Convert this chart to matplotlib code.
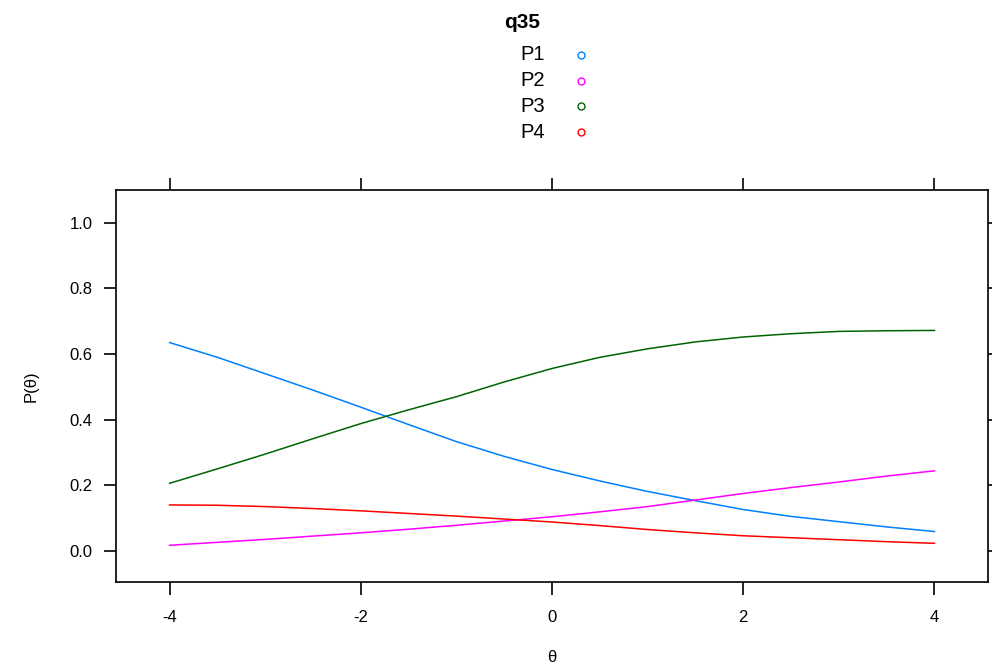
import matplotlib.pyplot as plt
import numpy as np
from matplotlib.lines import Line2D

plt.rcParams['font.family'] = ['Liberation Sans', 'DejaVu Sans']
plt.rcParams['axes.unicode_minus'] = False

# item trace lines for q35, one per response category
theta = [-4, -3.5, -3, -2.5, -2, -1.5, -1, -0.5, 0, 0.5, 1, 1.5, 2, 2.5, 3, 3.5, 4]
p1 = [0.635, 0.590, 0.540, 0.490, 0.438, 0.385, 0.333, 0.288, 0.248, 0.213, 0.181, 0.153, 0.126, 0.105, 0.089, 0.073, 0.059]
p2 = [0.017, 0.026, 0.035, 0.045, 0.055, 0.066, 0.078, 0.091, 0.104, 0.119, 0.135, 0.155, 0.175, 0.193, 0.210, 0.228, 0.244]
p3 = [0.206, 0.250, 0.295, 0.342, 0.388, 0.430, 0.470, 0.515, 0.556, 0.590, 0.616, 0.637, 0.652, 0.662, 0.669, 0.671, 0.672]
p4 = [0.140, 0.139, 0.135, 0.129, 0.122, 0.114, 0.106, 0.097, 0.088, 0.077, 0.065, 0.055, 0.046, 0.040, 0.034, 0.028, 0.023]

names = ['P1', 'P2', 'P3', 'P4']
series = [p1, p2, p3, p4]
colors = ['#0080ff', '#ff00ff', '#006400', '#ff0000']

fig = plt.figure(figsize=(9.92, 6.67), dpi=100)
ax = fig.add_axes([0.117, 0.1274, 0.879, 0.5877])

for ys, c in zip(series, colors):
    ax.plot(theta, ys, color=c, linewidth=1.1)

ax.set_xlim(-4.56, 4.56)
ax.set_ylim(-0.095, 1.1)
ax.set_xticks([-4, -2, 0, 2, 4])
ax.set_yticks([0.0, 0.2, 0.4, 0.6, 0.8, 1.0])
ax.set_yticklabels(['0.0', '0.2', '0.4', '0.6', '0.8', '1.0'])
ax.tick_params(axis='both', direction='out', length=9, width=1.2,
               top=True, right=True, labelsize=12, colors='black')
ax.tick_params(axis='x', pad=11)
ax.tick_params(axis='y', pad=8)
for s in ax.spines.values():
    s.set_linewidth(1.2)

ax.set_xlabel('θ', fontsize=12, labelpad=18)
ax.set_ylabel('P(θ)', fontsize=12, labelpad=22)

# title and key above the panel
fig.text(0.526, 0.967, 'q35', ha='center', va='center', fontsize=15, fontweight='bold')
for i, (n, c) in enumerate(zip(names, colors)):
    yy = 1 - (55 + i * 25.7) / 667
    fig.text(0.549, yy, n, ha='right', va='center', fontsize=14.5)
    fig.add_artist(Line2D([0.586], [yy], transform=fig.transFigure, marker='o',
                          markersize=5, markerfacecolor='none',
                          markeredgecolor=c, markeredgewidth=1.0, linestyle='none'))

fig.savefig('out.png', dpi=100)
